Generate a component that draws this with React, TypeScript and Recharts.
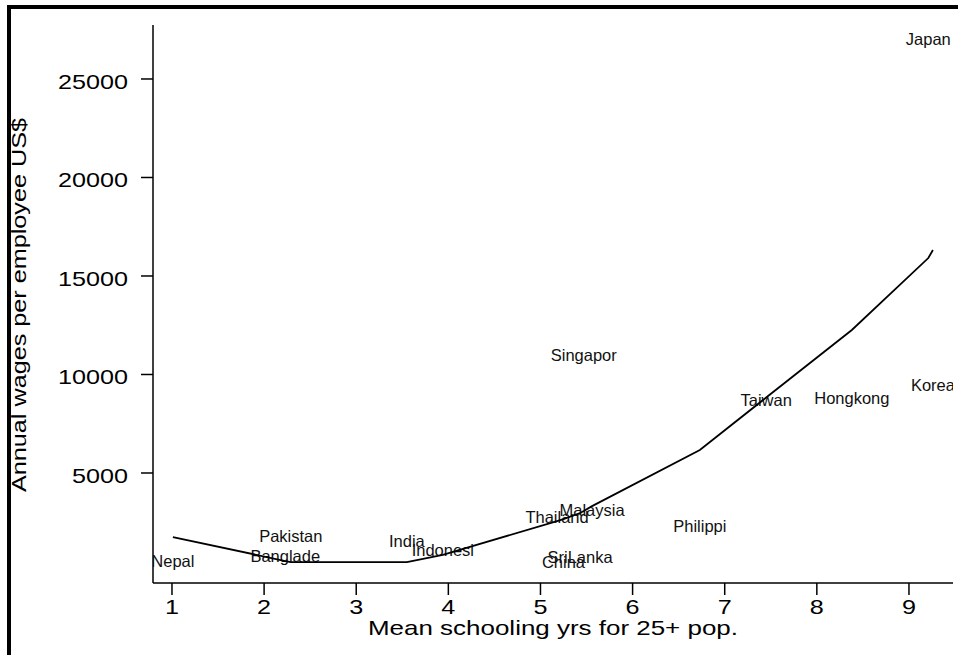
import { ScatterChart, Scatter, XAxis, YAxis } from "recharts";

const countries = [
  "Nepal", "Banglade", "Pakistan", "India", "Indonesi", "Thailand", "China", "SriLanka",
  "Singapor", "Malaysia", "Philippi", "Taiwan", "Hongkong", "Japan", "Korea",
];
const schooling = [1.01, 2.23, 2.29, 3.55, 3.94, 5.18, 5.25, 5.43, 5.47, 5.56, 6.73, 7.45, 8.38, 9.21, 9.26];
const wages = [530, 790, 1800, 1550, 1090, 2770, 480, 740, 10990, 3120, 2310, 8710, 8810, 27030, 9470];
// fitted wage at each country's schooling level (same order)
const fitted = [1750, 530, 480, 480, 840, 2560, 2660, 2970, 3070, 3320, 6170, 8830, 12260, 15910, 16320];

const xTicks = [1, 2, 3, 4, 5, 6, 7, 8, 9];
const yTicks = [5000, 10000, 15000, 20000, 25000];

const points = countries.map((name, i) => ({ x: schooling[i], y: wages[i], name }));
const fitLine = schooling.map((x, i) => ({ x, y: fitted[i] }));

const FONT = "'Liberation Sans', Arial, Helvetica, sans-serif";

const CountryLabel = (props: any) => (
  <text
    x={props.cx}
    y={props.cy + 6}
    textAnchor="middle"
    fontSize={16.5}
    fontFamily={FONT}
    fill="#111"
  >
    {props.payload.name}
  </text>
);

const XTick = (props: any) => (
  <text
    x={props.x}
    y={props.y + 17}
    textAnchor="middle"
    fontSize={21}
    fontFamily={FONT}
    fill="#000"
    textLength={14}
    lengthAdjust="spacingAndGlyphs"
  >
    {props.payload.value}
  </text>
);

const YTick = (props: any) => {
  const s = String(props.payload.value);
  return (
    <text
      x={props.x}
      y={props.y + 10}
      textAnchor="end"
      fontSize={21}
      fontFamily={FONT}
      fill="#000"
      textLength={s.length * 14}
      lengthAdjust="spacingAndGlyphs"
    >
      {s}
    </text>
  );
};

export default function App() {
  return (
    <div style={{ position: "absolute", left: 0, top: 0, width: 958, height: 655, background: "#fff" }}>
      <div
        style={{
          position: "absolute",
          left: 7,
          top: 5,
          width: 951,
          height: 650,
          borderTop: "4px solid #000",
          borderLeft: "4px solid #000",
          boxSizing: "border-box",
        }}
      />
      <div style={{ position: "absolute", left: 0, top: 0 }}>
        <ScatterChart width={958} height={655} margin={{ top: 25, right: 5, bottom: 0, left: 0 }}>
          <XAxis
            type="number"
            dataKey="x"
            domain={[0.794, 9.478]}
            ticks={xTicks}
            allowDataOverflow
            height={72}
            tickSize={12}
            tickMargin={2}
            tick={<XTick />}
            axisLine={{ stroke: "#000", strokeWidth: 1.5 }}
            tickLine={{ stroke: "#000", strokeWidth: 1.5 }}
            label={{
              content: () => (
                <text
                  x={553}
                  y={635}
                  textAnchor="middle"
                  fontSize={21}
                  fontFamily={FONT}
                  fill="#000"
                  textLength={370}
                  lengthAdjust="spacingAndGlyphs"
                >
                  Mean schooling yrs for 25+ pop.
                </text>
              ),
            }}
          />
          <YAxis
            type="number"
            dataKey="y"
            domain={[-584, 27740]}
            ticks={yTicks}
            allowDataOverflow
            width={153}
            tickSize={12}
            tickMargin={13}
            tick={<YTick />}
            axisLine={{ stroke: "#000", strokeWidth: 1.5 }}
            tickLine={{ stroke: "#000", strokeWidth: 1.5 }}
            label={{
              content: () => (
                <text
                  transform="translate(26,305) rotate(-90)"
                  textAnchor="middle"
                  fontSize={21}
                  fontFamily={FONT}
                  fill="#000"
                  textLength={374}
                  lengthAdjust="spacingAndGlyphs"
                >
                  Annual wages per employee US$
                </text>
              ),
            }}
          />
          <Scatter data={points} shape={<CountryLabel />} isAnimationActive={false} />
          <Scatter
            data={fitLine}
            line={{ stroke: "#000", strokeWidth: 1.8 }}
            lineType="joint"
            shape={() => <g />}
            isAnimationActive={false}
          />
        </ScatterChart>
      </div>
    </div>
  );
}
